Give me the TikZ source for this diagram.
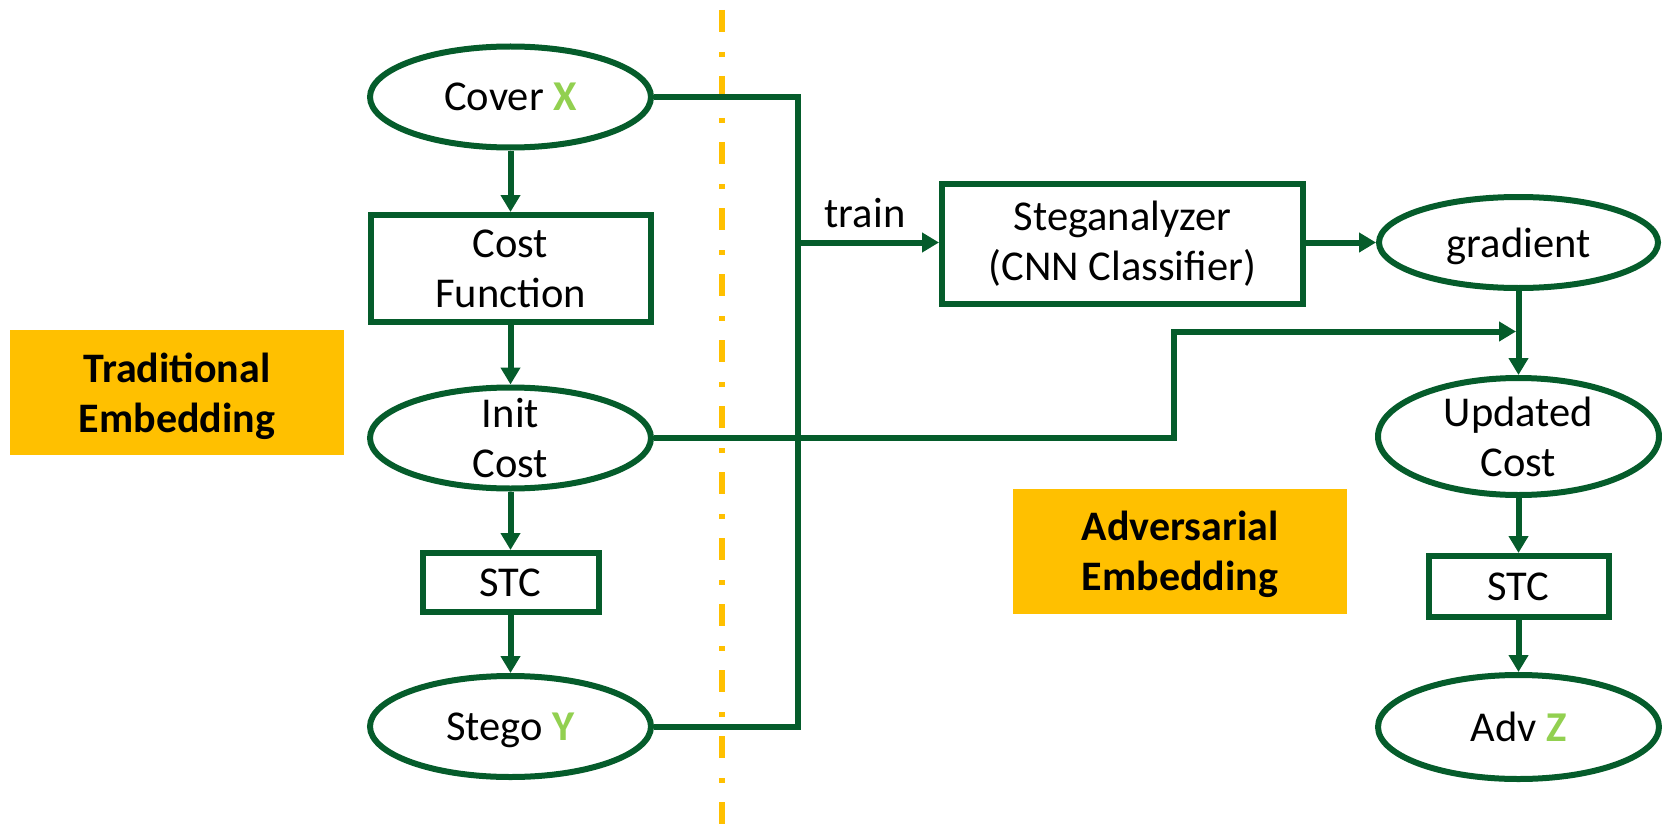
\documentclass[tikz,border=0pt]{standalone}
\usepackage{fontspec}
\setmainfont{Carlito}
\usetikzlibrary{shapes.geometric,arrows.meta}
\definecolor{flowgreen}{HTML}{055C2B}
\definecolor{accent}{HTML}{92D050}
\definecolor{gold}{HTML}{FFC000}
\tikzset{
  basefont/.style={font=\fontsize{42.5}{50}\selectfont},
  oval/.style={ellipse, draw=flowgreen, line width=6pt, inner sep=0pt,
    minimum width=281pt, minimum height=101pt, basefont, align=center},
  box/.style={rectangle, draw=flowgreen, line width=6pt, inner sep=0pt,
    basefont, align=center},
  tag/.style={rectangle, fill=gold, inner sep=0pt, minimum width=334pt,
    minimum height=125pt, font=\fontsize{42}{50}\selectfont\bfseries, align=center,
    text depth=0pt},
  oneline/.style={text depth=0pt},
  conn/.style={draw=flowgreen, line width=6pt},
  arr/.style={conn, -{Triangle[length=17pt,width=19pt]}},
  divider/.style={draw=gold, line width=6pt, dash pattern=on 22pt off 20pt on 5pt off 19pt},
}
\begin{document}
\begin{tikzpicture}[x=1pt, y=-1pt]
\useasboundingbox (0,0) rectangle (1662,824);

% divider between the two pipelines
\coordinate (divtop) at (722,10);
\coordinate (divbot) at (722,824);
\draw[divider] (divtop) -- (divbot);

% traditional embedding pipeline
\node[oval, oneline] (cover) at (510.5,97) {Cover \textcolor{accent}{\bfseries X}};
\node[box, minimum width=280pt, minimum height=107pt] (costfn) at (510.5,268.5) {Cost\\Function};
\node[oval, inner ysep=-5pt] (init) at (510.5,438) {Init\\Cost};
\node[box, oneline, minimum width=176pt, minimum height=59pt] (stcA) at (510.5,582.5) {STC};
\node[oval, oneline] (stego) at (510.5,726.5) {Stego \textcolor{accent}{\bfseries Y}};

% adversarial embedding pipeline
\node[box, minimum width=361pt, minimum height=120pt] (stegana) at (1122.5,244) {Steganalyzer\\(CNN Classifier)};
\node[oval, oneline, minimum width=279pt, minimum height=91pt] (grad) at (1518.5,242.5) {gradient};
\node[oval, minimum width=281pt, minimum height=117pt] (upd) at (1518.5,436.5) {Updated\\Cost};
\node[box, oneline, minimum width=180pt, minimum height=61pt] (stcB) at (1518.5,586.5) {STC};
\node[oval, oneline, minimum width=281pt, minimum height=104pt] (adv) at (1518.5,727) {Adv \textcolor{accent}{\bfseries Z}};

% section labels
\node[tag] (trad) at (177,392.5) {Traditional\\Embedding};
\node[tag] (adversarial) at (1180,551) {Adversarial\\Embedding};
\node[basefont, anchor=base, inner sep=0pt] (trainlbl) at (865,227) {train};

% junction points
\coordinate (trunkY) at (798,726.5);
\coordinate (trunkT) at (798,242.5);
\coordinate (bend) at (1173.5,331.5);
\coordinate (merge) at (1516,331.5);

% connectors
\draw[arr] (cover) -- (costfn);
\draw[arr] (costfn) -- (init);
\draw[arr] (init) -- (stcA);
\draw[arr] (stcA) -- (stego);
\draw[conn] (cover.east) -| (trunkY) -- (stego.east);
\draw[arr] (trunkT) -- (trunkT -| stegana.west);
\draw[arr] (stegana.east |- grad.west) -- (grad.west);
\draw[arr] (grad) -- (upd);
\draw[arr] (init.east) -| (bend) -- (merge);
\draw[arr] (upd) -- (stcB);
\draw[arr] (stcB) -- (adv);
\end{tikzpicture}
\end{document}
